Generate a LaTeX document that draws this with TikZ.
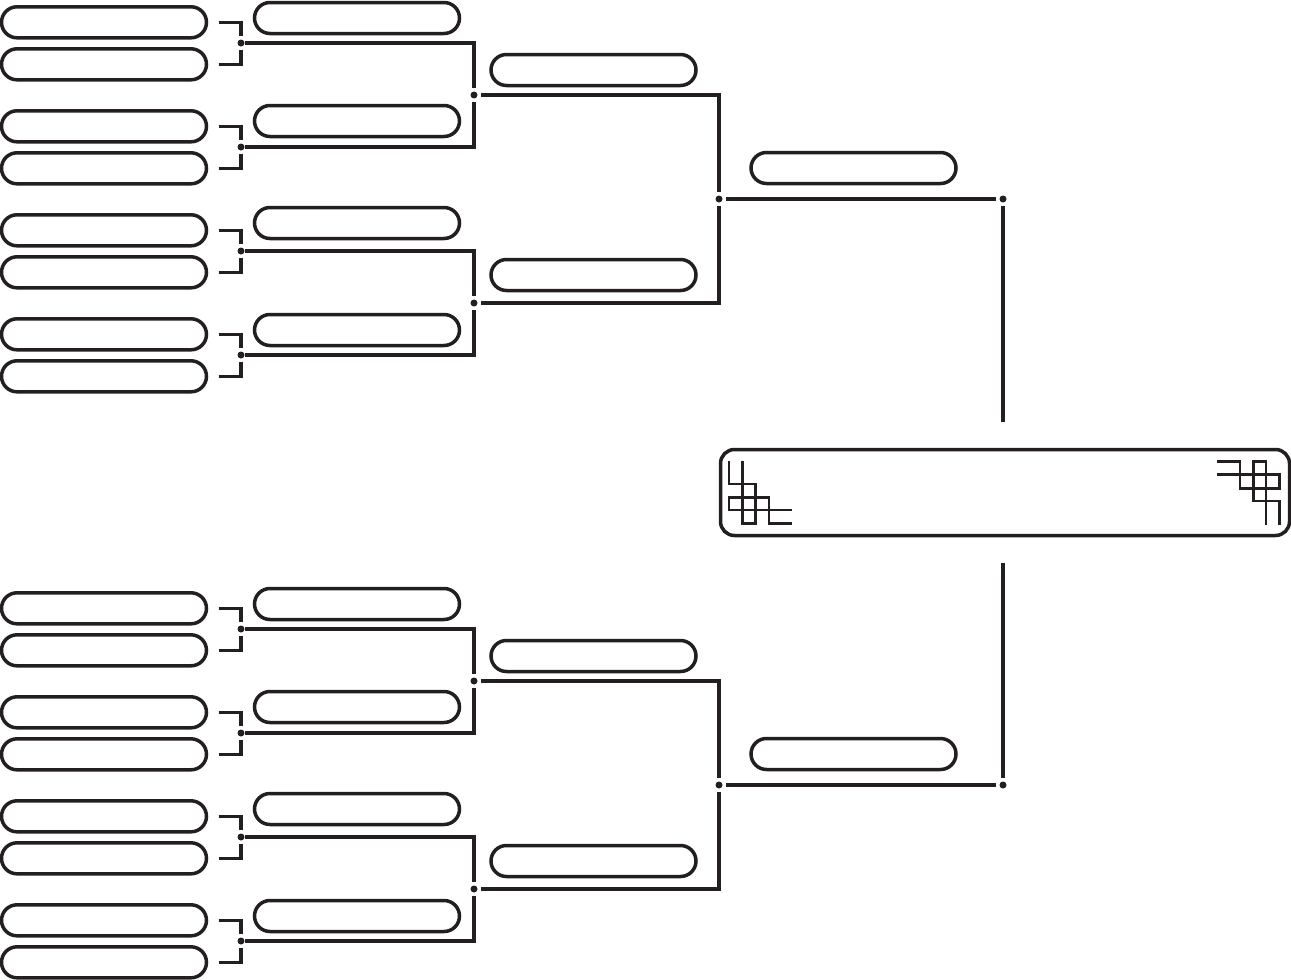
\documentclass[tikz,border=0pt]{standalone}
\definecolor{ink}{HTML}{231F20}
\tikzset{
  slot/.style={draw=ink,line width=3.5pt,rounded corners=15.5pt,minimum width=205pt,minimum height=31pt,inner sep=0pt,outer sep=0pt},
  finalbox/.style={draw=ink,line width=3.5pt,rounded corners=14pt,minimum width=569pt,minimum height=86pt,inner sep=0pt,outer sep=0pt},
  joint/.style={circle,fill=ink,draw=none,minimum size=7pt,inner sep=0pt,outer sep=3.5pt},
  conn/.style={draw=ink,line width=3.5pt},
  ornament/.style={draw=ink,line width=2.5pt}
}
\begin{document}
\begin{tikzpicture}[x=1pt,y=-1pt]
\useasboundingbox (0,0) rectangle (1291,980);
\foreach \s/\o in {A/0,B/586}{
\begin{scope}[yshift=-\o pt]
  % round 1 slots, joints, round 2 slots
  \foreach \i/\ya/\yb/\yj/\yr in {1/22.3/64.3/43/18,2/126.3/168.3/147/121,3/230.3/272.3/251/223,4/334.3/376.3/355/330}{
    \node[slot] (\s L\i a) at (104,\ya) {};
    \node[slot] (\s L\i b) at (104,\yb) {};
    \node[joint] (\s J\i) at (241,\yj) {};
    \node[slot] (\s R\i) at (357,\yr) {};
    \draw[conn,shorten <=12pt] (\s L\i a.east) -| (\s J\i.north);
    \draw[conn,shorten <=12pt] (\s L\i b.east) -| (\s J\i.south);
  }
  % round 3
  \node[joint] (\s K1) at (474,95) {};
  \node[joint] (\s K2) at (474,303) {};
  \node[slot] (\s S1) at (593.5,70) {};
  \node[slot] (\s S2) at (593.5,275) {};
  \draw[conn,shorten <=-3pt] (\s J1.east) -| (\s K1.north);
  \draw[conn,shorten <=-3pt] (\s J2.east) -| (\s K1.south);
  \draw[conn,shorten <=-3pt] (\s J3.east) -| (\s K2.north);
  \draw[conn,shorten <=-3pt] (\s J4.east) -| (\s K2.south);
  % round 4
  \node[joint] (\s M) at (719,199) {};
  \node[slot] (\s T) at (853.5,168) {};
  \draw[conn] (\s K1.east) -| (\s M.north);
  \draw[conn] (\s K2.east) -| (\s M.south);
  % semi-final joint
  \node[joint] (\s F) at (1003,199) {};
  \draw[conn] (\s M.east) -- (\s F.west);
\end{scope}
}
\node[finalbox] (final) at (1005,492.5) {};
\coordinate (gapTop) at (1003,422);
\coordinate (gapBottom) at (1003,563);
\draw[conn] (AF.south) -- (gapTop);
\draw[conn] (BF.north) -- (gapBottom);
% left ornament
\draw[ornament] (729,460.7) -- (729,484) -- (755.7,484) -- (755.7,523.3) -- (742.3,523.3) -- (742.3,460.7);
\draw[ornament] (791.7,523.3) -- (769,523.3) -- (769,497.3) -- (729,497.3) -- (729,510) -- (791.7,510);
% right ornament
\draw[ornament] (1216.7,461.7) -- (1240,461.7) -- (1240,488.3) -- (1279.3,488.3) -- (1279.3,474.3) -- (1216.7,474.3);
\draw[ornament] (1266,525) -- (1266,461.7) -- (1253.3,461.7) -- (1253.3,501) -- (1279.3,501) -- (1279.3,525);
\end{tikzpicture}
\end{document}
